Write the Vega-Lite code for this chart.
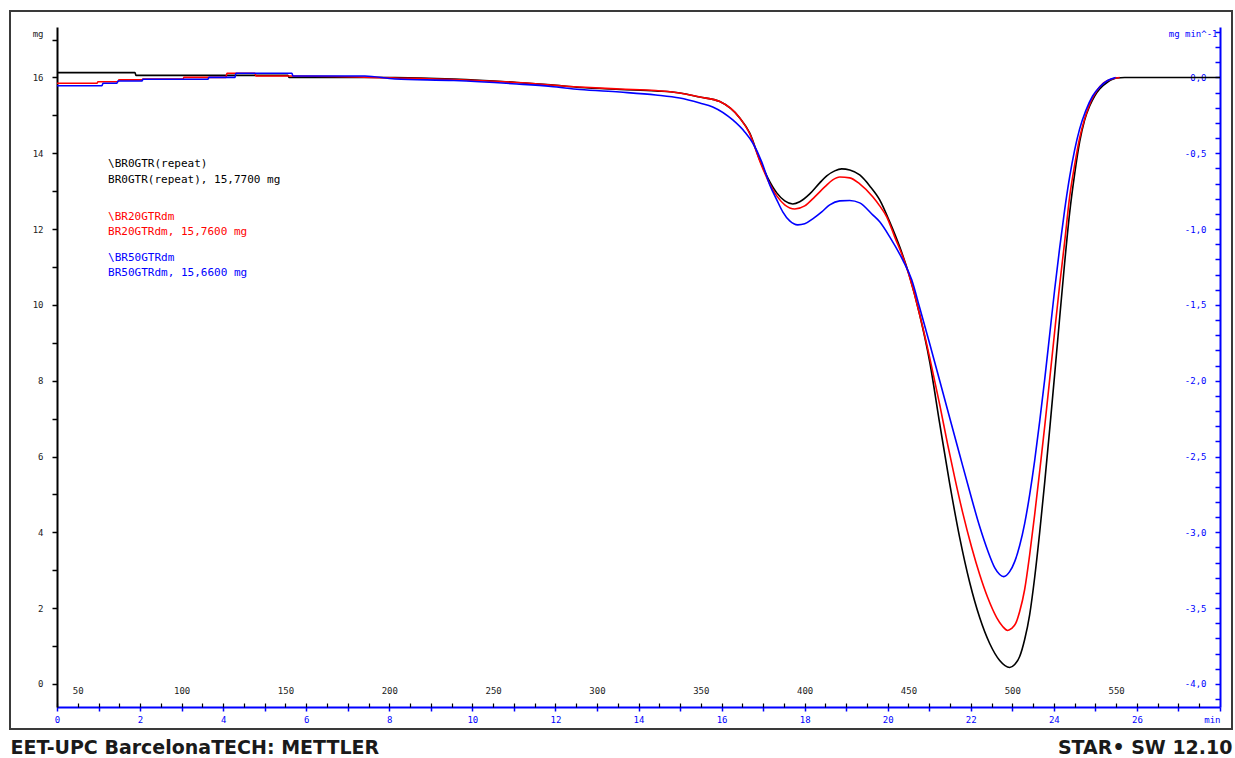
{
  "$schema": "https://vega.github.io/schema/vega-lite/v6.json",
  "width": 1222,
  "height": 718,
  "autosize": {"type": "none"},
  "padding": {"left": 10, "top": 11, "right": 3, "bottom": 29},
  "background": "white",
  "view": {"stroke": "#3a3a3a", "strokeWidth": 2, "fill": "white"},
  "datasets": {
    "dtg": [
      {"s":"k","t":0,"v":0.032},{"s":"k","t":1.877,"v":0.032},{"s":"k","t":1.901,"v":0.014},{"s":"k","t":5.56,"v":0.014},{"s":"k","t":5.584,"v":0.001},{"s":"k","t":8.135,"v":0},{"s":"k","t":9.555,"v":-0.01},{"s":"k","t":11.071,"v":-0.033},{"s":"k","t":11.889,"v":-0.049},{"s":"k","t":12.587,"v":-0.066},{"s":"k","t":13.55,"v":-0.079},{"s":"k","t":14.416,"v":-0.089},{"s":"k","t":14.994,"v":-0.102},{"s":"k","t":15.475,"v":-0.129},{"s":"k","t":15.957,"v":-0.159},{"s":"k","t":16.438,"v":-0.267},{"s":"k","t":16.679,"v":-0.366},{"s":"k","t":16.919,"v":-0.544},{"s":"k","t":17.112,"v":-0.662},{"s":"k","t":17.329,"v":-0.761},{"s":"k","t":17.521,"v":-0.814},{"s":"k","t":17.714,"v":-0.834},{"s":"k","t":17.882,"v":-0.82},{"s":"k","t":18.123,"v":-0.768},{"s":"k","t":18.363,"v":-0.695},{"s":"k","t":18.532,"v":-0.649},{"s":"k","t":18.724,"v":-0.616},{"s":"k","t":18.893,"v":-0.603},{"s":"k","t":19.086,"v":-0.61},{"s":"k","t":19.326,"v":-0.643},{"s":"k","t":19.567,"v":-0.715},{"s":"k","t":19.807,"v":-0.807},{"s":"k","t":20.048,"v":-0.952},{"s":"k","t":20.289,"v":-1.117},{"s":"k","t":20.53,"v":-1.315},{"s":"k","t":20.77,"v":-1.565},{"s":"k","t":21.011,"v":-1.875},{"s":"k","t":21.252,"v":-2.283},{"s":"k","t":21.492,"v":-2.679},{"s":"k","t":21.733,"v":-3.035},{"s":"k","t":21.974,"v":-3.331},{"s":"k","t":22.214,"v":-3.562},{"s":"k","t":22.455,"v":-3.733},{"s":"k","t":22.696,"v":-3.845},{"s":"k","t":22.936,"v":-3.891},{"s":"k","t":23.057,"v":-3.872},{"s":"k","t":23.177,"v":-3.819},{"s":"k","t":23.297,"v":-3.707},{"s":"k","t":23.418,"v":-3.542},{"s":"k","t":23.538,"v":-3.298},{"s":"k","t":23.658,"v":-3.002},{"s":"k","t":23.779,"v":-2.672},{"s":"k","t":23.899,"v":-2.323},{"s":"k","t":24.019,"v":-1.96},{"s":"k","t":24.14,"v":-1.585},{"s":"k","t":24.26,"v":-1.222},{"s":"k","t":24.38,"v":-0.893},{"s":"k","t":24.501,"v":-0.636},{"s":"k","t":24.621,"v":-0.425},{"s":"k","t":24.741,"v":-0.28},{"s":"k","t":24.862,"v":-0.188},{"s":"k","t":24.982,"v":-0.122},{"s":"k","t":25.102,"v":-0.076},{"s":"k","t":25.295,"v":-0.03},{"s":"k","t":25.511,"v":-0.003},{"s":"k","t":25.704,"v":0},{"s":"k","t":28,"v":0},
      {"s":"r","t":0,"v":-0.038},{"s":"r","t":0.963,"v":-0.038},{"s":"r","t":0.987,"v":-0.028},{"s":"r","t":1.468,"v":-0.028},{"s":"r","t":1.492,"v":-0.016},{"s":"r","t":2.046,"v":-0.016},{"s":"r","t":2.07,"v":-0.01},{"s":"r","t":3.033,"v":-0.01},{"s":"r","t":3.057,"v":0.001},{"s":"r","t":4.067,"v":0.001},{"s":"r","t":4.091,"v":0.028},{"s":"r","t":4.765,"v":0.028},{"s":"r","t":4.789,"v":0.01},{"s":"r","t":5.608,"v":0.01},{"s":"r","t":8.135,"v":-0.003},{"s":"r","t":9.555,"v":-0.013},{"s":"r","t":11.071,"v":-0.033},{"s":"r","t":12.587,"v":-0.063},{"s":"r","t":13.55,"v":-0.076},{"s":"r","t":14.416,"v":-0.086},{"s":"r","t":14.994,"v":-0.102},{"s":"r","t":15.475,"v":-0.129},{"s":"r","t":15.957,"v":-0.159},{"s":"r","t":16.438,"v":-0.267},{"s":"r","t":16.679,"v":-0.372},{"s":"r","t":16.919,"v":-0.55},{"s":"r","t":17.112,"v":-0.675},{"s":"r","t":17.329,"v":-0.781},{"s":"r","t":17.521,"v":-0.84},{"s":"r","t":17.762,"v":-0.867},{"s":"r","t":18.002,"v":-0.847},{"s":"r","t":18.243,"v":-0.787},{"s":"r","t":18.484,"v":-0.722},{"s":"r","t":18.676,"v":-0.675},{"s":"r","t":18.845,"v":-0.656},{"s":"r","t":19.086,"v":-0.662},{"s":"r","t":19.326,"v":-0.702},{"s":"r","t":19.639,"v":-0.787},{"s":"r","t":19.807,"v":-0.847},{"s":"r","t":19.976,"v":-0.919},{"s":"r","t":20.168,"v":-1.051},{"s":"r","t":20.409,"v":-1.216},{"s":"r","t":20.602,"v":-1.387},{"s":"r","t":20.77,"v":-1.565},{"s":"r","t":21.011,"v":-1.848},{"s":"r","t":21.252,"v":-2.158},{"s":"r","t":21.444,"v":-2.422},{"s":"r","t":21.613,"v":-2.639},{"s":"r","t":21.805,"v":-2.87},{"s":"r","t":22.022,"v":-3.1},{"s":"r","t":22.214,"v":-3.278},{"s":"r","t":22.407,"v":-3.43},{"s":"r","t":22.623,"v":-3.562},{"s":"r","t":22.768,"v":-3.621},{"s":"r","t":22.888,"v":-3.647},{"s":"r","t":22.984,"v":-3.634},{"s":"r","t":23.081,"v":-3.601},{"s":"r","t":23.177,"v":-3.522},{"s":"r","t":23.297,"v":-3.377},{"s":"r","t":23.418,"v":-3.147},{"s":"r","t":23.538,"v":-2.883},{"s":"r","t":23.658,"v":-2.6},{"s":"r","t":23.779,"v":-2.303},{"s":"r","t":23.899,"v":-1.993},{"s":"r","t":24.019,"v":-1.677},{"s":"r","t":24.14,"v":-1.367},{"s":"r","t":24.26,"v":-1.084},{"s":"r","t":24.38,"v":-0.787},{"s":"r","t":24.501,"v":-0.577},{"s":"r","t":24.621,"v":-0.399},{"s":"r","t":24.741,"v":-0.273},{"s":"r","t":24.886,"v":-0.161},{"s":"r","t":25.03,"v":-0.089},{"s":"r","t":25.199,"v":-0.036},{"s":"r","t":25.391,"v":-0.01},{"s":"r","t":25.584,"v":0},
      {"s":"b","t":0,"v":-0.054},{"s":"b","t":1.083,"v":-0.054},{"s":"b","t":1.107,"v":-0.038},{"s":"b","t":1.444,"v":-0.038},{"s":"b","t":1.468,"v":-0.023},{"s":"b","t":2.046,"v":-0.023},{"s":"b","t":2.07,"v":-0.012},{"s":"b","t":3.634,"v":-0.012},{"s":"b","t":3.658,"v":0.001},{"s":"b","t":4.284,"v":0.001},{"s":"b","t":4.308,"v":0.028},{"s":"b","t":5.656,"v":0.028},{"s":"b","t":5.68,"v":0.01},{"s":"b","t":7.413,"v":0.01},{"s":"b","t":8.135,"v":-0.01},{"s":"b","t":9.555,"v":-0.02},{"s":"b","t":11.071,"v":-0.043},{"s":"b","t":11.889,"v":-0.059},{"s":"b","t":12.587,"v":-0.079},{"s":"b","t":13.55,"v":-0.096},{"s":"b","t":14.416,"v":-0.115},{"s":"b","t":14.994,"v":-0.135},{"s":"b","t":15.475,"v":-0.168},{"s":"b","t":15.788,"v":-0.194},{"s":"b","t":16.27,"v":-0.28},{"s":"b","t":16.558,"v":-0.359},{"s":"b","t":16.751,"v":-0.432},{"s":"b","t":16.968,"v":-0.557},{"s":"b","t":17.16,"v":-0.708},{"s":"b","t":17.329,"v":-0.807},{"s":"b","t":17.473,"v":-0.886},{"s":"b","t":17.641,"v":-0.946},{"s":"b","t":17.834,"v":-0.972},{"s":"b","t":18.002,"v":-0.965},{"s":"b","t":18.195,"v":-0.932},{"s":"b","t":18.412,"v":-0.886},{"s":"b","t":18.604,"v":-0.84},{"s":"b","t":18.845,"v":-0.814},{"s":"b","t":19.086,"v":-0.811},{"s":"b","t":19.326,"v":-0.827},{"s":"b","t":19.639,"v":-0.906},{"s":"b","t":19.807,"v":-0.952},{"s":"b","t":20.048,"v":-1.051},{"s":"b","t":20.361,"v":-1.203},{"s":"b","t":20.578,"v":-1.334},{"s":"b","t":20.77,"v":-1.519},{"s":"b","t":21.011,"v":-1.756},{"s":"b","t":21.252,"v":-2},{"s":"b","t":21.492,"v":-2.244},{"s":"b","t":21.733,"v":-2.488},{"s":"b","t":21.974,"v":-2.731},{"s":"b","t":22.214,"v":-2.962},{"s":"b","t":22.407,"v":-3.12},{"s":"b","t":22.575,"v":-3.232},{"s":"b","t":22.696,"v":-3.278},{"s":"b","t":22.792,"v":-3.292},{"s":"b","t":22.936,"v":-3.259},{"s":"b","t":23.057,"v":-3.193},{"s":"b","t":23.177,"v":-3.087},{"s":"b","t":23.297,"v":-2.942},{"s":"b","t":23.418,"v":-2.751},{"s":"b","t":23.538,"v":-2.527},{"s":"b","t":23.658,"v":-2.27},{"s":"b","t":23.779,"v":-1.993},{"s":"b","t":23.899,"v":-1.697},{"s":"b","t":24.019,"v":-1.4},{"s":"b","t":24.14,"v":-1.124},{"s":"b","t":24.26,"v":-0.873},{"s":"b","t":24.38,"v":-0.656},{"s":"b","t":24.501,"v":-0.478},{"s":"b","t":24.621,"v":-0.339},{"s":"b","t":24.765,"v":-0.221},{"s":"b","t":24.934,"v":-0.122},{"s":"b","t":25.102,"v":-0.063},{"s":"b","t":25.295,"v":-0.02},{"s":"b","t":25.487,"v":0}
    ],
    "notes": [
      {"s":"k","T":64.6,"mg":13.717,"label":"\\BR0GTR(repeat)"},
      {"s":"k","T":64.6,"mg":13.295,"label":"BR0GTR(repeat), 15,7700 mg"},
      {"s":"r","T":64.6,"mg":12.327,"label":"\\BR20GTRdm"},
      {"s":"r","T":64.6,"mg":11.931,"label":"BR20GTRdm, 15,7600 mg"},
      {"s":"b","T":64.6,"mg":11.245,"label":"\\BR50GTRdm"},
      {"s":"b","T":64.6,"mg":10.834,"label":"BR50GTRdm, 15,6600 mg"}
    ]
  },
  "layer": [
    {
      "data": {"name": "dtg"},
      "mark": {"type": "line", "strokeWidth": 1.6, "interpolate": "monotone", "clip": false},
      "encoding": {
        "x": {
          "field": "t", "type": "quantitative",
          "scale": {"domain": [0, 28], "range": [47, 1210], "nice": false, "zero": false},
          "axis": {
            "orient": "bottom", "offset": -22,
            "values": [0,1,2,3,4,5,6,7,8,9,10,11,12,13,14,15,16,17,18,19,20,21,22,23,24,25,26,27,28],
            "labelExpr": "datum.value == 28 ? 'min' : (datum.value % 2 == 0 ? datum.label : '')",
            "labelAlign": {"condition": {"test": "datum.value == 28", "value": "right"}, "value": "center"},
            "domainColor": "#0000ff", "domainWidth": 2,
            "tickColor": "#0000ff", "tickSize": 4, "tickWidth": 1.5,
            "labelColor": "#0000ff", "labelFont": "DejaVu Sans Mono", "labelFontSize": 9, "labelPadding": 4,
            "labelFlush": false, "labelOverlap": false, "grid": false,
            "title": "STAR• SW 12.10", "titleX": 1222, "titleY": 40, "titleAlign": "right", "titleBaseline": "middle",
            "titleFont": "DejaVu Sans", "titleFontSize": 19, "titleFontWeight": "bold", "titleColor": "#1a1a1a"
          }
        },
        "y": {
          "field": "v", "type": "quantitative",
          "scale": {"domain": [-4.152, 0.333], "range": [696, 16], "nice": false, "zero": false},
          "axis": {
            "orient": "right", "offset": -12,
            "values": [-4.1,-4,-3.9,-3.8,-3.7,-3.6,-3.5,-3.4,-3.3,-3.2,-3.1,-3,-2.9,-2.8,-2.7,-2.6,-2.5,-2.4,-2.3,-2.2,-2.1,-2,-1.9,-1.8,-1.7,-1.6,-1.5,-1.4,-1.3,-1.2,-1.1,-1,-0.9,-0.8,-0.7,-0.6,-0.5,-0.4,-0.3,-0.2,-0.1,0,0.1,0.2,0.3],
            "labelExpr": "abs(datum.value*2 - round(datum.value*2)) < 0.001 ? replace(replace(format(datum.value, '.1f'), '.', ','), '−', '-') : ''",
            "domainColor": "#0000ff", "domainWidth": 2,
            "tickColor": "#0000ff", "tickSize": -5, "tickWidth": 1.5,
            "labelColor": "#0000ff", "labelFont": "DejaVu Sans Mono", "labelFontSize": 9, "labelPadding": -9,
            "labelAlign": "right", "labelBaseline": "middle",
            "labelFlush": false, "labelOverlap": false, "grid": false,
            "title": "mg min^-1", "titleAngle": 0, "titleX": -3, "titleY": 22, "titleAlign": "right", "titleBaseline": "middle",
            "titleFont": "DejaVu Sans Mono", "titleFontSize": 9, "titleFontWeight": "normal", "titleColor": "#0000ff"
          }
        },
        "color": {
          "field": "s", "type": "nominal",
          "scale": {"domain": ["k", "r", "b"], "range": ["#000000", "#ff0000", "#0000ff"]},
          "legend": null
        }
      }
    },
    {
      "data": {"name": "notes"},
      "mark": {"type": "text", "align": "left", "baseline": "middle", "font": "DejaVu Sans Mono", "fontSize": 11},
      "encoding": {
        "x": {
          "field": "T", "type": "quantitative",
          "scale": {"domain": [40, 600], "range": [47, 1210], "nice": false, "zero": false},
          "axis": {
            "orient": "bottom", "offset": -22,
            "values": [40,50,60,70,80,90,100,110,120,130,140,150,160,170,180,190,200,210,220,230,240,250,260,270,280,290,300,310,320,330,340,350,360,370,380,390,400,410,420,430,440,450,460,470,480,490,500,510,520,530,540,550,560,570,580,590],
            "labelExpr": "datum.value % 50 == 0 ? datum.label : ''",
            "domain": false,
            "tickColor": "#000000", "tickSize": -4, "tickWidth": 1.2,
            "labelColor": "#222222", "labelFont": "DejaVu Sans Mono", "labelFontSize": 9, "labelPadding": -12.5,
            "labelBaseline": "middle", "labelAlign": "center",
            "labelFlush": false, "labelOverlap": false, "grid": false,
            "title": "EET-UPC BarcelonaTECH: METTLER", "titleX": 0, "titleY": 40, "titleAlign": "left", "titleBaseline": "middle",
            "titleFont": "DejaVu Sans", "titleFontSize": 19, "titleFontWeight": "bold", "titleColor": "#1a1a1a"
          }
        },
        "y": {
          "field": "mg", "type": "quantitative",
          "scale": {"domain": [-0.608, 17.332], "range": [696, 16], "nice": false, "zero": false},
          "axis": {
            "orient": "left", "offset": -47,
            "values": [0,1,2,3,4,5,6,7,8,9,10,11,12,13,14,15,16,17],
            "labelExpr": "datum.value % 2 == 0 ? datum.label : ''",
            "domainColor": "#000000", "domainWidth": 2,
            "tickColor": "#000000", "tickSize": 5, "tickWidth": 1.5,
            "labelColor": "#222222", "labelFont": "DejaVu Sans Mono", "labelFontSize": 9, "labelPadding": 9,
            "labelFlush": false, "labelOverlap": false, "grid": false,
            "title": "mg", "titleAngle": 0, "titleX": -14, "titleY": 22, "titleAlign": "right", "titleBaseline": "middle",
            "titleFont": "DejaVu Sans Mono", "titleFontSize": 9, "titleFontWeight": "normal", "titleColor": "#222222"
          }
        },
        "text": {"field": "label", "type": "nominal"},
        "color": {
          "field": "s", "type": "nominal",
          "scale": {"domain": ["k", "r", "b"], "range": ["#000000", "#ff0000", "#0000ff"]},
          "legend": null
        }
      }
    }
  ],
  "resolve": {
    "scale": {"x": "independent", "y": "independent"},
    "axis": {"x": "independent", "y": "independent"}
  }
}
